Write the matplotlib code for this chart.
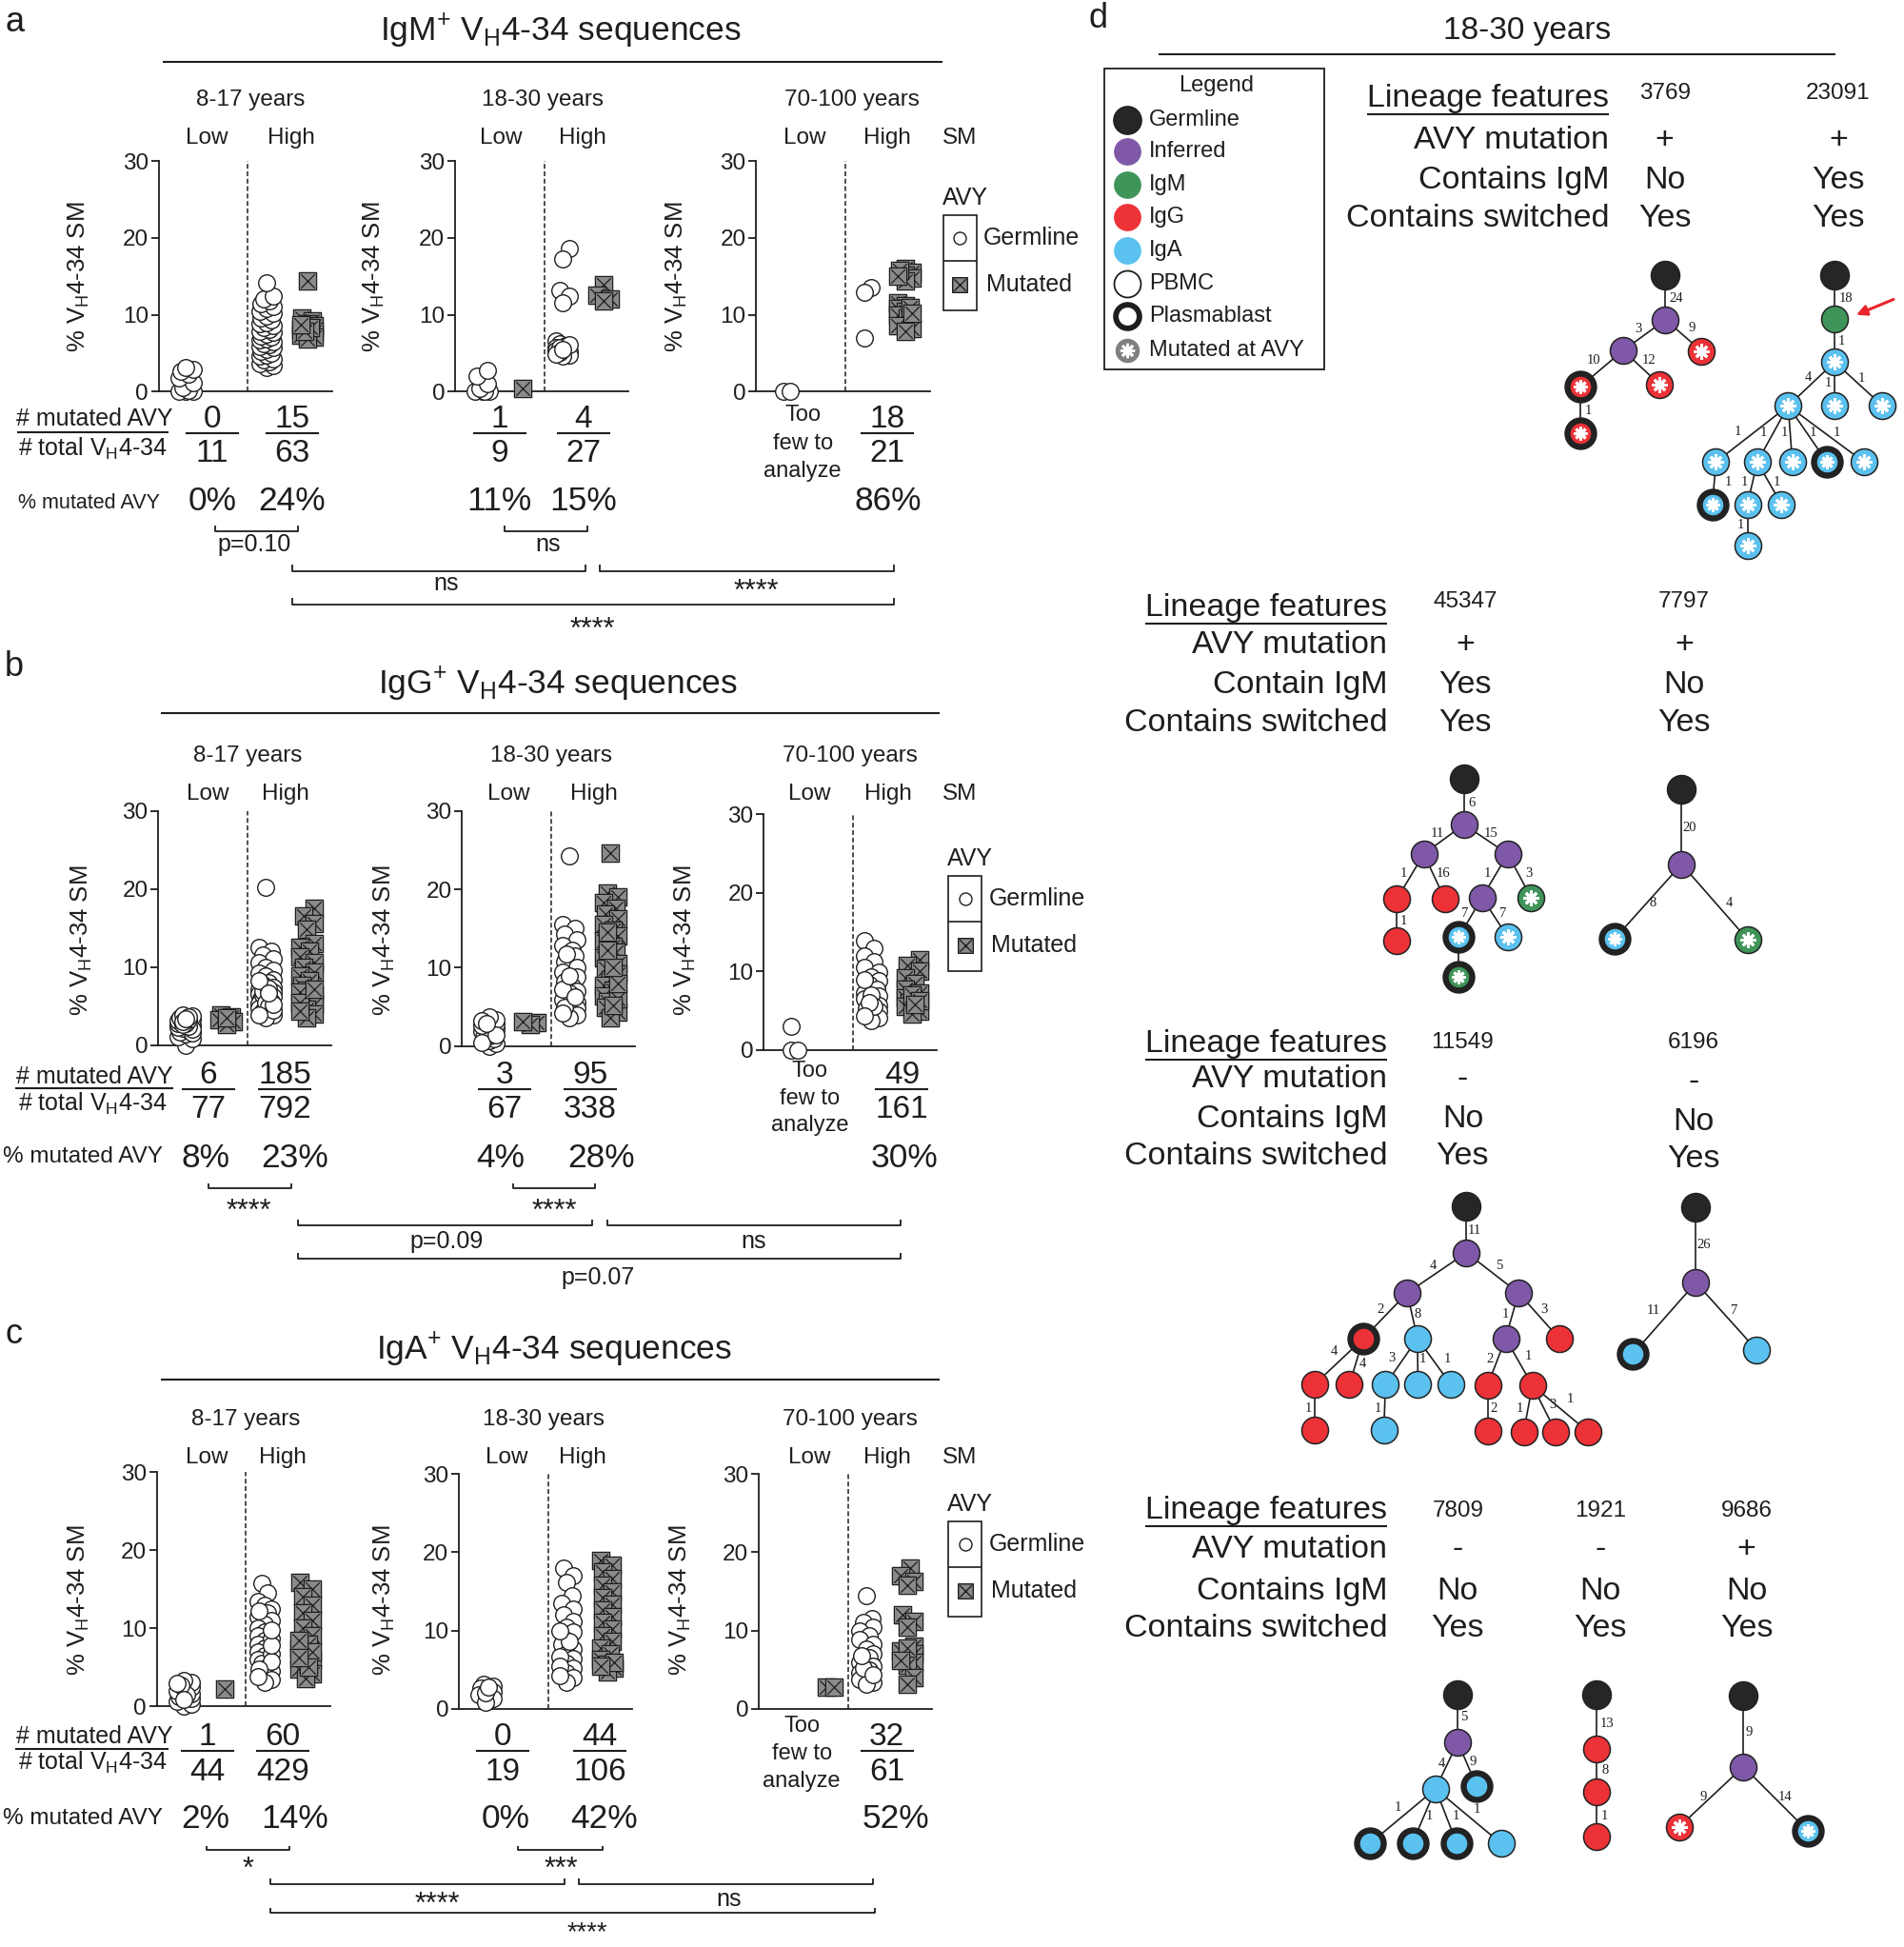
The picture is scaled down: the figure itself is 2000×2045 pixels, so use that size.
import numpy as np
import matplotlib
matplotlib.use("Agg")
import matplotlib.pyplot as plt
from matplotlib.path import Path
from matplotlib.patches import Rectangle

plt.rcParams['font.family'] = ['Liberation Sans', 'DejaVu Sans']
plt.rcParams['mathtext.default'] = 'regular'

# ======================= DATA =======================
ages = ["8-17 years", "18-30 years", "70-100 years"]
titles = [r"IgM$^{+}$ V$_{H}$4-34 sequences",
          r"IgG$^{+}$ V$_{H}$4-34 sequences",
          r"IgA$^{+}$ V$_{H}$4-34 sequences"]

# ---- IgM (panel a) : % VH4-34 SM per sequence
igm_817_low_germ = [0, 0, 0, 0.2, 0.5, 1.2, 1.8, 2.3, 2.6, 2.9, 3.1]
igm_817_low_mut = []
igm_817_high_germ = [3.2, 3.4, 3.6, 3.9, 4.1, 4.3, 4.6, 4.8, 5.0, 5.2, 5.5, 5.7, 5.9, 6.1,
                     6.3, 6.5, 6.7, 6.9, 7.1, 7.3, 7.5, 7.7, 7.9, 8.1, 8.3, 8.6, 8.8, 9.0,
                     9.3, 9.6, 9.9, 10.2, 10.5, 10.8, 11.1, 11.4, 11.8, 12.1, 12.4, 14.2]
igm_817_high_mut = [14.4, 9.6, 9.2, 8.9, 8.6, 8.4, 8.1, 7.9, 7.6, 7.4, 7.1, 6.9, 8.3, 7.8, 8.7]
igm_1830_low_germ = [0, 0, 0, 0, 0.4, 1.0, 2.0, 2.8]
igm_1830_low_mut = [0.4]
igm_1830_high_germ = [18.6, 17.3, 13.2, 12.4, 11.6, 6.6, 6.3, 6.0, 5.8, 5.6, 5.4, 5.2, 5.0,
                      4.8, 4.6, 5.7, 5.1, 6.1, 4.9, 5.5]
igm_1830_high_mut = [13.9, 12.6, 12.1, 11.8]
igm_70_low_germ = [0.1, 0.1]
igm_70_low_mut = []
igm_70_high_germ = [13.6, 13.0, 7.0]
igm_70_high_mut = [16.0, 15.6, 15.2, 14.8, 14.4, 15.8, 11.6, 11.2, 10.8, 10.4, 10.0, 9.6,
                   8.6, 8.2, 7.9, 11.0, 10.2, 15.0]
igm_low_mut_n = [0, 1, None]
igm_low_tot_n = [11, 9, None]
igm_high_mut_n = [15, 4, 18]
igm_high_tot_n = [63, 27, 21]
igm_sig = ["p=0.10", "ns", "ns", "****", "****"]

# ---- IgG (panel b)
igg_817_low_germ = [0.0, 0.8, 1.1, 1.4, 1.7, 1.9, 2.1, 2.3, 2.5, 2.7, 2.9, 3.1, 3.3, 3.5,
                    3.7, 3.9, 1.5, 2.0, 2.4, 2.8, 3.2, 3.6, 2.6, 3.0, 3.4]
igg_817_low_mut = [3.9, 3.6, 3.3, 3.0, 2.6, 3.5]
igg_817_high_germ = [20.2, 12.5, 12.0, 11.5, 11.0, 10.5, 10.0, 9.6, 9.2, 8.8, 8.4, 8.0, 7.7,
                     7.4, 7.1, 6.8, 6.5, 6.2, 5.9, 5.6, 5.3, 5.0, 4.7, 4.4, 4.1, 3.8, 3.5,
                     6.0, 6.4, 6.9, 5.5, 4.9, 7.3, 8.2, 4.5, 5.2, 3.9, 6.6]
igg_817_high_mut = [17.5, 16.5, 15.5, 14.8, 13.0, 12.5, 12.0, 11.3, 10.6, 10.0, 9.4, 8.8,
                    8.2, 7.6, 7.0, 6.4, 5.8, 5.2, 4.6, 4.0, 3.5, 6.8, 5.5, 4.3, 7.2]
igg_1830_low_germ = [0, 0.3, 0.7, 1.0, 1.3, 1.6, 1.9, 2.2, 2.5, 2.8, 3.1, 3.4, 3.7, 1.2,
                     2.0, 2.6, 3.3, 0.5, 1.5, 2.9]
igg_1830_low_mut = [3.0, 2.8, 3.2]
igg_1830_high_germ = [24.2, 15.5, 15.0, 14.3, 13.6, 12.9, 12.2, 11.5, 10.8, 10.1, 9.4, 8.8,
                      8.2, 7.6, 7.0, 6.5, 6.0, 5.6, 5.2, 4.8, 4.4, 4.0, 3.6, 6.8, 5.9, 5.0,
                      4.2, 7.3, 9.0, 11.8, 6.3]
igg_1830_high_mut = [24.6, 19.5, 19.0, 18.3, 17.6, 16.9, 16.2, 15.5, 14.8, 14.1, 13.4, 12.7,
                     12.0, 11.3, 10.6, 9.9, 9.2, 8.5, 7.8, 7.1, 6.4, 5.7, 5.0, 4.3, 3.6,
                     6.0, 8.0, 10.0, 12.3, 14.5, 5.2]
igg_70_low_germ = [3.0, 0, 0]
igg_70_low_mut = []
igg_70_high_germ = [13.9, 12.9, 12.0, 11.2, 10.5, 9.9, 9.3, 8.8, 8.3, 7.8, 7.3, 6.9, 6.5,
                    6.1, 5.7, 5.3, 4.9, 4.5, 4.1, 3.7, 8.9, 7.0, 5.5, 6.0, 4.3]
igg_70_high_mut = [11.5, 10.8, 10.0, 9.2, 8.5, 7.8, 7.2, 6.6, 6.0, 5.5, 5.0, 4.6, 7.0, 6.3, 5.8]
igg_low_mut_n = [6, 3, None]
igg_low_tot_n = [77, 67, None]
igg_high_mut_n = [185, 95, 49]
igg_high_tot_n = [792, 338, 161]
igg_sig = ["****", "****", "p=0.09", "ns", "p=0.07"]

# ---- IgA (panel c)
iga_817_low_germ = [0, 0.3, 0.7, 1.0, 1.3, 1.6, 1.9, 2.2, 2.5, 2.8, 3.1, 3.3, 1.5, 2.0,
                    2.7, 3.0, 0.9]
iga_817_low_mut = [2.2]
iga_817_high_germ = [15.8, 14.5, 13.5, 13.0, 12.5, 12.0, 11.5, 11.0, 10.5, 10.0, 9.5, 9.0,
                     8.5, 8.0, 7.5, 7.0, 6.5, 6.0, 5.5, 5.0, 4.5, 4.0, 3.5, 3.1, 12.2, 8.7,
                     6.8, 5.8, 4.8, 3.8, 7.8, 9.8]
iga_817_high_mut = [15.9, 15.0, 14.0, 13.0, 12.0, 11.0, 10.0, 9.0, 8.0, 7.3, 6.6, 6.0, 5.4,
                    4.8, 4.2, 3.6, 7.0, 5.0, 8.5, 6.3]
iga_1830_low_germ = [3.2, 2.9, 2.6, 2.2, 1.8, 1.3, 0.8, 2.0, 2.8]
iga_1830_low_mut = []
iga_1830_high_germ = [18.0, 17.0, 16.2, 14.5, 13.5, 12.8, 12.0, 11.2, 10.5, 9.8, 9.0, 8.3,
                      7.6, 7.0, 6.4, 5.8, 5.2, 4.6, 4.0, 3.4, 6.7, 8.6, 5.5, 4.3, 10.0]
iga_1830_high_mut = [19.0, 18.3, 17.5, 16.7, 15.8, 15.0, 14.2, 13.4, 12.6, 11.8, 11.0, 10.2,
                     9.4, 8.6, 7.8, 7.0, 6.3, 5.7, 5.2, 4.7, 6.0, 5.4]
iga_70_low_germ = []
iga_70_low_mut = [2.8, 2.8]
iga_70_high_germ = [14.4, 11.5, 11.0, 10.5, 10.0, 9.4, 8.8, 8.2, 7.6, 7.0, 6.5, 6.0, 5.5,
                    5.0, 4.6, 4.2, 3.8, 3.4, 3.1, 5.2, 4.4, 6.8]
iga_70_high_mut = [18.0, 17.0, 16.3, 15.8, 12.0, 11.2, 10.5, 8.0, 7.4, 7.0, 6.5, 6.0, 5.6,
                   4.0, 3.2, 7.8, 6.2]
iga_low_mut_n = [1, 0, None]
iga_low_tot_n = [44, 19, None]
iga_high_mut_n = [60, 44, 32]
iga_high_tot_n = [429, 106, 61]
iga_sig = ["*", "***", "****", "ns", "****"]

# ---- Panel d: lineage feature tables
block1_ids = ["3769", "23091"]; block1_avy = ["+", "+"]; block1_igm = ["No", "Yes"]; block1_sw = ["Yes", "Yes"]
block2_ids = ["45347", "7797"]; block2_avy = ["+", "+"]; block2_igm = ["Yes", "No"]; block2_sw = ["Yes", "Yes"]
block3_ids = ["11549", "6196"]; block3_avy = ["-", "-"]; block3_igm = ["No", "No"]; block3_sw = ["Yes", "Yes"]
block4_ids = ["7809", "1921", "9686"]; block4_avy = ["-", "-", "+"]; block4_igm = ["No", "No", "No"]; block4_sw = ["Yes", "Yes", "Yes"]

# ---- lineage trees: (x, y, isotype, plasmablast, mutated_AVY, parent, edge_label, label_x, label_y)
tree_3769 = [
    (1343.6, 222.0, 'germ', 0, 0, None, '', 0, 0),
    (1343.6, 257.9, 'inf', 0, 0, 0, '24', 1352.3, 241.0),
    (1309.4, 282.7, 'inf', 0, 0, 1, '3', 1322.0, 265.0),
    (1372.7, 283.3, 'igg', 0, 1, 1, '9', 1364.8, 264.6),
    (1274.9, 311.9, 'igg', 1, 1, 2, '10', 1285.3, 291.0),
    (1338.6, 309.9, 'igg', 0, 1, 2, '12', 1330.0, 291.0),
    (1274.9, 349.3, 'igg', 1, 1, 4, '1', 1281.5, 331.5),
]
tree_23091 = [
    (1480.0, 222.0, 'germ', 0, 0, None, '', 0, 0),
    (1480.0, 257.0, 'igm', 0, 0, 0, '18', 1489.0, 241.0),
    (1480.0, 292.0, 'iga', 0, 1, 1, '1', 1486.0, 275.4),
    (1442.6, 327.4, 'iga', 0, 1, 2, '4', 1458.4, 304.6),
    (1480.0, 327.4, 'iga', 0, 1, 2, '1', 1474.5, 309.0),
    (1518.7, 327.4, 'iga', 0, 1, 2, '1', 1501.6, 305.2),
    (1384.3, 372.7, 'iga', 0, 1, 3, '1', 1401.8, 348.4),
    (1417.6, 372.7, 'iga', 0, 1, 3, '1', 1423.0, 349.0),
    (1445.9, 372.7, 'iga', 0, 1, 3, '1', 1439.2, 349.0),
    (1473.8, 372.7, 'iga', 1, 1, 3, '1', 1462.5, 349.0),
    (1503.7, 372.7, 'iga', 0, 1, 3, '1', 1482.0, 349.0),
    (1381.4, 406.8, 'iga', 1, 1, 6, '1', 1393.9, 389.3),
    (1409.7, 406.8, 'iga', 0, 1, 7, '1', 1407.2, 389.3),
    (1437.2, 406.8, 'iga', 0, 1, 7, '1', 1433.4, 389.3),
    (1409.7, 440.4, 'iga', 0, 1, 12, '1', 1404.3, 423.8),
]
tree_45347 = [
    (1181.0, 628.0, 'germ', 0, 0, None, '', 0, 0),
    (1181.0, 665.1, 'inf', 0, 0, 0, '6', 1187.2, 648.0),
    (1148.6, 688.9, 'inf', 0, 0, 1, '11', 1159.4, 672.3),
    (1216.4, 688.9, 'inf', 0, 0, 1, '15', 1203.0, 672.3),
    (1126.9, 725.3, 'igg', 0, 0, 2, '1', 1132.3, 704.8),
    (1165.6, 725.3, 'igg', 0, 0, 2, '16', 1164.4, 704.8),
    (1195.6, 724.0, 'inf', 0, 0, 3, '1', 1200.1, 704.8),
    (1235.1, 724.0, 'igm', 0, 1, 3, '3', 1233.0, 704.8),
    (1126.9, 758.6, 'igg', 0, 0, 4, '1', 1132.3, 742.7),
    (1176.8, 756.0, 'iga', 1, 1, 6, '7', 1181.8, 736.8),
    (1216.4, 756.0, 'iga', 0, 1, 6, '7', 1212.2, 736.8),
    (1176.8, 788.0, 'igm', 1, 1, 9, '', 0, 0),
]
tree_7797 = [
    (1356.6, 636.4, 'germ', 0, 0, None, '', 0, 0),
    (1356.6, 697.1, 'inf', 0, 0, 0, '20', 1363.2, 667.7),
    (1302.5, 757.3, 'iga', 1, 1, 1, '8', 1333.7, 728.6),
    (1409.8, 757.8, 'igm', 0, 1, 1, '4', 1395.3, 728.6),
]
tree_11549 = [
    (1183.0, 973.0, 'germ', 0, 0, None, '', 0, 0),
    (1183.0, 1010.5, 'inf', 0, 0, 0, '11', 1189.2, 992.8),
    (1135.2, 1043.0, 'inf', 0, 0, 1, '4', 1156.0, 1020.7),
    (1225.0, 1043.0, 'inf', 0, 0, 1, '5', 1209.2, 1020.7),
    (1099.8, 1079.7, 'igg', 1, 0, 2, '2', 1113.5, 1056.7),
    (1143.5, 1079.7, 'iga', 0, 0, 2, '8', 1143.9, 1060.0),
    (1214.6, 1079.7, 'inf', 0, 0, 3, '1', 1214.6, 1060.5),
    (1258.3, 1080.2, 'igg', 0, 0, 3, '3', 1245.8, 1056.7),
    (1060.3, 1117.0, 'igg', 0, 0, 4, '4', 1076.1, 1090.4),
    (1088.6, 1117.0, 'igg', 0, 0, 4, '4', 1099.0, 1100.5),
    (1117.7, 1117.0, 'iga', 0, 0, 5, '3', 1122.7, 1095.4),
    (1143.9, 1117.0, 'iga', 0, 0, 5, '1', 1148.0, 1096.7),
    (1170.5, 1117.0, 'iga', 0, 0, 5, '1', 1167.6, 1096.7),
    (1200.1, 1117.5, 'igg', 0, 0, 6, '2', 1201.7, 1096.7),
    (1236.2, 1117.5, 'igg', 0, 0, 6, '1', 1233.3, 1094.2),
    (1060.3, 1153.2, 'igg', 0, 0, 8, '1', 1055.3, 1136.0),
    (1116.4, 1153.2, 'iga', 0, 0, 10, '1', 1111.4, 1136.0),
    (1200.1, 1154.3, 'igg', 0, 0, 13, '2', 1205.0, 1136.5),
    (1229.2, 1155.0, 'igg', 0, 0, 14, '1', 1225.8, 1136.5),
    (1255.0, 1155.0, 'igg', 0, 0, 14, '3', 1252.9, 1133.0),
    (1281.2, 1155.0, 'igg', 0, 0, 14, '1', 1266.6, 1128.4),
]
tree_6196 = [
    (1368.1, 973.8, 'germ', 0, 0, None, '', 0, 0),
    (1368.1, 1034.6, 'inf', 0, 0, 0, '26', 1374.8, 1004.2),
    (1317.4, 1092.1, 'iga', 1, 0, 1, '11', 1334.0, 1057.4),
    (1417.2, 1089.1, 'iga', 0, 0, 1, '7', 1399.3, 1057.4),
]
tree_7809 = [
    (1176.0, 1367.0, 'germ', 0, 0, None, '', 0, 0),
    (1176.0, 1405.4, 'inf', 0, 0, 0, '5', 1181.0, 1385.4),
    (1158.1, 1443.0, 'iga', 0, 0, 1, '4', 1162.7, 1422.6),
    (1191.4, 1441.0, 'iga', 1, 0, 1, '9', 1188.5, 1421.3),
    (1105.3, 1487.0, 'iga', 1, 0, 2, '1', 1127.7, 1458.4),
    (1139.4, 1487.0, 'iga', 1, 0, 2, '1', 1153.1, 1465.3),
    (1175.2, 1487.0, 'iga', 1, 0, 2, '1', 1174.8, 1465.3),
    (1210.9, 1487.0, 'iga', 0, 0, 2, '1', 1191.4, 1459.7),
]
tree_1921 = [
    (1288.3, 1367.0, 'germ', 0, 0, None, '', 0, 0),
    (1288.3, 1410.5, 'igg', 0, 0, 0, '13', 1296.6, 1390.6),
    (1288.3, 1445.6, 'igg', 0, 0, 1, '8', 1294.6, 1428.4),
    (1288.3, 1481.4, 'igg', 0, 0, 2, '1', 1294.6, 1464.8),
]
tree_9686 = [
    (1406.5, 1368.0, 'germ', 0, 0, None, '', 0, 0),
    (1406.5, 1425.1, 'inf', 0, 0, 0, '9', 1410.6, 1397.7),
    (1354.5, 1473.8, 'igg', 0, 1, 1, '9', 1374.4, 1449.9),
    (1458.5, 1477.1, 'iga', 1, 1, 1, '14', 1440.2, 1449.9),
]

legend_items = ["Germline", "Inferred", "IgM", "IgG", "IgA", "PBMC", "Plasmablast", "Mutated at AVY"]

# ======================= STYLE / LAYOUT =======================
W, H = 1536.0, 1570.6          # layout units (~ 1.302 output px each)
PT = 0.9375                    # points per layout unit
INK = '#1e1e1e'
iso_color = {'germ': '#262626', 'inf': '#7f58a7', 'igm': '#3f9459',
             'igg': '#ec3237', 'iga': '#5bc1ef'}

fig = plt.figure(figsize=(20, 20.45), dpi=100)
ov = fig.add_axes([0, 0, 1, 1])
ov.set_xlim(0, W); ov.set_ylim(H, 0); ov.axis('off')


def T(x, y, s, size, ha='center', va='center', **kw):
    kw.setdefault('color', INK)
    return ov.text(x, y, s, fontsize=size, ha=ha, va=va, **kw)


def L(xs, ys, lw=1.3, **kw):
    ov.plot(xs, ys, color=INK, lw=lw, solid_capstyle='butt', **kw)


def swarm(vals, ppu, D, steps=(0, 2.2, -2.2, 4.2, -4.2, 5.6, -5.6)):
    vals = np.asarray(vals, float)
    xs = np.zeros(len(vals))
    placed = []
    for i in np.argsort(vals, kind='stable'):
        y = vals[i] * ppu
        best, bestd = 0.0, -1.0
        for s in steps:
            d = min([np.hypot(s - px, y - py) for px, py in placed], default=1e9)
            if d >= 0.7 * D:
                best = s
                break
            if d > bestd:
                best, bestd = s, d
        xs[i] = best
        placed.append((best, y))
    return xs


sq_marker = Path([(-1, -1), (1, -1), (1, 1), (-1, 1), (-1, -1),
                  (-0.8, -0.8), (0.8, 0.8), (-0.8, 0.8), (0.8, -0.8)],
                 [Path.MOVETO, Path.LINETO, Path.LINETO, Path.LINETO, Path.CLOSEPOLY,
                  Path.MOVETO, Path.LINETO, Path.MOVETO, Path.LINETO])

GX = {'lowG': 22, 'lowM': 55, 'dash': 72, 'highG': 87, 'highM': 120}
AXW = 140

panels = [
    dict(letter='a', letter_xy=(4, 18), title_xy=(452, 25), uline=(50, 131, 760),
         age_y=81, age_x=[202.4, 437.6, 687.5], lh_y=111.7,
         low_x=[166.6, 404, 649], high_x=[235, 470, 716],
         ax_x0=[128, 367, 610], ax_top=[130, 130, 130], ax_bot=[316, 316, 316],
         ylab_x=[64, 302, 546], ylab_y=223,
         colL=[171, 403, 647.5], colH=[235.7, 470.5, 716],
         num_y=338, fl_y=349.5, den_y=366, pct_y=404, few_y=[335, 358, 380],
         pctL=[171, 403], pctH=[235.7, 470.5, 716],
         rowlab=dict(mut=(76, 338, 14, 136, 349), tot=(75, 362), pct=(71.5, 406, 15.5)),
         small=[(173.5, 240.7, 205), (407, 473.5, 442)], small_y=(424, 428.5, 439),
         long1=(235.5, 472, 359.5, 471), long2=(484, 721, 610, 471), long_y=(455.5, 460.7),
         bot=(235.5, 721, 478, 501), bot_y=(482, 488),
         leg_dx=0, leg_dy=0,
         data=[(igm_817_low_germ, igm_817_low_mut, igm_817_high_germ, igm_817_high_mut),
               (igm_1830_low_germ, igm_1830_low_mut, igm_1830_high_germ, igm_1830_high_mut),
               (igm_70_low_germ, igm_70_low_mut, igm_70_high_germ, igm_70_high_mut)],
         counts=(igm_low_mut_n, igm_low_tot_n, igm_high_mut_n, igm_high_tot_n), sig=igm_sig),
    dict(letter='b', letter_xy=(4, 538), title_xy=(449.6, 552), uline=(575.6, 130, 758),
         age_y=609.6, age_x=[200, 445, 686], lh_y=640.6,
         low_x=[168, 410.6, 653], high_x=[230, 479, 716.5],
         ax_x0=[127.5, 372.5, 616], ax_top=[654, 654, 657], ax_bot=[843, 844, 847],
         ylab_x=[66, 310, 553], ylab_y=759,
         colL=[168, 407, 653], colH=[230, 476, 727.6],
         num_y=867.3, fl_y=878.3, den_y=895, pct_y=934, few_y=[864, 886, 908],
         pctL=[165.6, 404], pctH=[237.7, 485, 730],
         rowlab=dict(mut=(76, 869, 12, 140, 878), tot=(75, 890.6), pct=(67, 933, 17.5)),
         small=[(168, 235, 201), (414, 480, 447)], small_y=(955, 958.3, 970.6),
         long1=(240, 478, 360, 1001.6), long2=(490, 726.7, 607.6, 1001.6), long_y=(984, 988.3),
         bot=(240, 726.7, 482.6, 1030.6), bot_y=(1010.6, 1015),
         leg_dx=4, leg_dy=533,
         data=[(igg_817_low_germ, igg_817_low_mut, igg_817_high_germ, igg_817_high_mut),
               (igg_1830_low_germ, igg_1830_low_mut, igg_1830_high_germ, igg_1830_high_mut),
               (igg_70_low_germ, igg_70_low_mut, igg_70_high_germ, igg_70_high_mut)],
         counts=(igg_low_mut_n, igg_low_tot_n, igg_high_mut_n, igg_high_tot_n), sig=igg_sig),
    dict(letter='c', letter_xy=(4, 1076), title_xy=(447, 1089), uline=(1113, 130, 758),
         age_y=1145, age_x=[198.5, 438.6, 686], lh_y=1175.5,
         low_x=[166.6, 409, 653], high_x=[227.9, 470, 716],
         ax_x0=[126.4, 370, 612], ax_top=[1187.6, 1189, 1189], ax_bot=[1376.5, 1378.5, 1378.5],
         ylab_x=[64, 310, 549], ylab_y=1291,
         colL=[167.6, 405.7, 646.8], colH=[228, 484, 715.4],
         num_y=1401, fl_y=1412.3, den_y=1429.6, pct_y=1467, few_y=[1392.8, 1415, 1436.7],
         pctL=[165.6, 407.7], pctH=[237.7, 487.6, 722.8],
         rowlab=dict(mut=(76, 1401, 12, 136, 1411), tot=(75, 1422), pct=(67, 1467, 17.5)),
         small=[(166.6, 233.7, 200), (418, 486, 453)], small_y=(1489, 1492.4, 1501),
         long1=(218, 455.7, 352.8, 1530), long2=(467, 704, 588, 1532), long_y=(1515.5, 1519.7),
         bot=(218, 705.6, 474, None), bot_y=(1539, 1543),
         leg_dx=4, leg_dy=1054,
         data=[(iga_817_low_germ, iga_817_low_mut, iga_817_high_germ, iga_817_high_mut),
               (iga_1830_low_germ, iga_1830_low_mut, iga_1830_high_germ, iga_1830_high_mut),
               (iga_70_low_germ, iga_70_low_mut, iga_70_high_germ, iga_70_high_mut)],
         counts=(iga_low_mut_n, iga_low_tot_n, iga_high_mut_n, iga_high_tot_n), sig=iga_sig),
]

FS_TITLE, FS_LAB, FS_TICK, FS_FRAC, FS_PCT = 25.5, 17.5, 17.5, 24, 25.5


def sig_text(x, y, s):
    if y is None:   # bottom-most label: sit on the figure's lower edge
        T(x, H - 1.0, s, 19.5, va='bottom')
        return
    dy = 7 if set(s) == {'*'} else 0
    T(x, y + dy, s, 22 if dy else 18)


for pi, p in enumerate(panels):
    T(p['letter_xy'][0], p['letter_xy'][1], p['letter'], 26, ha='left')
    T(p['title_xy'][0], p['title_xy'][1], titles[pi], FS_TITLE)
    uy, ux0, ux1 = p['uline']
    L([ux0, ux1], [uy, uy], lw=1.5)
    for k in range(3):
        T(p['age_x'][k], p['age_y'], ages[k], FS_LAB)
        T(p['low_x'][k], p['lh_y'], 'Low', FS_LAB)
        T(p['high_x'][k], p['lh_y'], 'High', FS_LAB)
    T(774, p['lh_y'], 'SM', FS_LAB)

    # ---- scatter axes
    for k in range(3):
        x0, yt, yb = p['ax_x0'][k], p['ax_top'][k], p['ax_bot'][k]
        ax = fig.add_axes([x0 / W, 1 - yb / H, AXW / W, (yb - yt) / H])
        ax.set_xlim(0, AXW); ax.set_ylim(0, 30)
        ax.patch.set_alpha(0)
        for s in ['top', 'right']:
            ax.spines[s].set_visible(False)
        for s in ['left', 'bottom']:
            ax.spines[s].set_linewidth(1.3); ax.spines[s].set_color(INK)
        ax.set_xticks([])
        ax.set_yticks([0, 10, 20, 30])
        ax.tick_params(axis='y', length=6 * PT, width=1.3, labelsize=FS_TICK, pad=2,
                       colors=INK)
        ax.plot([GX['dash'], GX['dash']], [0, 30], ls=(0, (3.3, 1.8)), lw=1.1, color=INK)
        ppu = (yb - yt) / 30.0
        lowG, lowM, highG, highM = p['data'][k]
        for vals, key in [(lowG, 'lowG'), (highG, 'highG')]:
            if len(vals):
                xs = GX[key] + swarm(vals, ppu, 13)
                ax.plot(xs, vals, ls='none', marker='o', ms=13.5 * PT, mfc='white',
                        mec=INK, mew=1.0, clip_on=False, zorder=3)
        for vals, key in [(lowM, 'lowM'), (highM, 'highM')]:
            if len(vals):
                xs = GX[key] + swarm(vals, ppu, 14)
                ax.plot(xs, vals, ls='none', marker=sq_marker, ms=14 * PT, mfc='#8a8a8a',
                        mec=INK, mew=0.9, clip_on=False, zorder=3)
        T(p['ylab_x'][k], p['ylab_y'], r"% V$_{H}$4-34 SM", 18.5, rotation=90)

    # ---- counts rows
    lm, lt, hm, ht = p['counts']
    for k in range(3):
        cols = []
        if lm[k] is not None:
            cols.append((p['colL'][k], lm[k], lt[k], p['pctL'][k]))
        else:
            for yy, s in zip(p['few_y'], ['Too', 'few to', 'analyze']):
                T(p['colL'][k], yy, s, 17)
        cols.append((p['colH'][k], hm[k], ht[k], p['pctH'][k]))
        for cx, m, t, px in cols:
            T(cx, p['num_y'], str(m), FS_FRAC)
            L([cx - 21.5, cx + 21.5], [p['fl_y'], p['fl_y']], lw=1.5)
            T(cx, p['den_y'], str(t), FS_FRAC)
            T(px, p['pct_y'], f"{round(100 * m / t)}%", FS_PCT)
    rl = p['rowlab']
    mx, my, u0, u1, uy2 = rl['mut']
    T(mx, my, '# mutated AVY', 18)
    L([u0, u1], [uy2, uy2], lw=1.5)
    T(rl['tot'][0], rl['tot'][1], r"# total V$_{H}$4-34", 18)
    T(rl['pct'][0], rl['pct'][1], '% mutated AVY', rl['pct'][2])

    # ---- significance brackets
    sig = p['sig']
    yt_, yl_, ytx = p['small_y']
    for (a0, a1, tx), s in zip(p['small'], sig[:2]):
        L([a0, a0, a1, a1], [yt_, yl_, yl_, yt_])
        sig_text(tx, ytx, s)
    for br, s in [(p['long1'], sig[2]), (p['long2'], sig[3])]:
        L([br[0], br[0], br[1], br[1]], [p['long_y'][0], p['long_y'][1], p['long_y'][1], p['long_y'][0]])
        sig_text(br[2], br[3], s)
    b = p['bot']
    L([b[0], b[0], b[1], b[1]], [p['bot_y'][0], p['bot_y'][1], p['bot_y'][1], p['bot_y'][0]])
    sig_text(b[2], b[3], sig[4])

    # ---- AVY legend
    dx, dy = p['leg_dx'], p['leg_dy']
    T(760 + dx, 159.8 + dy, 'AVY', 18, ha='left')
    ov.add_patch(Rectangle((761 + dx, 173.6 + dy), 27, 76.8, fill=False, lw=1.2, ec=INK))
    L([761 + dx, 788 + dx], [210.4 + dy, 210.4 + dy], lw=1.2)
    ov.plot([774.5 + dx], [192 + dy], ls='none', marker='o', ms=10 * PT, mfc='white', mec=INK, mew=1.0)
    ov.plot([774.5 + dx], [229.5 + dy], ls='none', marker=sq_marker, ms=12 * PT, mfc='#8a8a8a', mec=INK, mew=1.0)
    T(793.4 + dx, 192 + dy, 'Germline', 18, ha='left')
    T(795.7 + dx, 229.5 + dy, 'Mutated', 18, ha='left')

# ======================= PANEL d =======================
T(878, 15, 'd', 26, ha='left')
T(1232, 25, '18-30 years', 24)
L([935, 1481], [44, 44], lw=1.5)

# legend box
ov.add_patch(Rectangle((891, 55), 177, 243, fill=False, lw=1.3, ec=INK))
T(981.4, 69, 'Legend', 17)
leg_y = [97, 122.4, 149.2, 175.4, 202, 228.8, 254.8, 282.3]
leg_style = [('#262626', INK, 1.0, 22.5), (iso_color['inf'], iso_color['inf'], 1.0, 21),
             (iso_color['igm'], iso_color['igm'], 1.0, 21), (iso_color['igg'], iso_color['igg'], 1.0, 21),
             (iso_color['iga'], iso_color['iga'], 1.0, 21), ('white', INK, 1.3, 21.5),
             ('white', INK, 4.2, 19), ('#808080', '#808080', 1.0, 18.5)]
for lab, yy, (fc, ec, mw, ms) in zip(legend_items, leg_y, leg_style):
    ov.plot([909.3], [yy], ls='none', marker='o', ms=ms * PT, mfc=fc, mec=ec, mew=mw)
    T(926.7, yy, lab, 17, ha='left')
ov.plot([909.3], [282.3], ls='none', marker=(8, 2, 0), ms=11, mew=2.0, color='white')

# feature blocks
blocks = [
    dict(rx=1298, ys=[79.8, 113.4, 145.5, 176], id_y=75.4, cx=[1343, 1483], cdy=[0, 0],
         ids=block1_ids, avy=block1_avy, igm=block1_igm, sw=block1_sw, igm_label='Contains IgM'),
    dict(rx=1119, ys=[490.5, 520.5, 552.5, 583.2], id_y=485.4, cx=[1181.8, 1358.6], cdy=[0, 0],
         ids=block2_ids, avy=block2_avy, igm=block2_igm, sw=block2_sw, igm_label='Contain IgM'),
    dict(rx=1119, ys=[842.4, 870.3, 902.8, 932.7], id_y=841, cx=[1180, 1366], cdy=[0, 2.5],
         ids=block3_ids, avy=block3_avy, igm=block3_igm, sw=block3_sw, igm_label='Contains IgM'),
    dict(rx=1119, ys=[1218.5, 1250.3, 1283.5, 1313.8], id_y=1219, cx=[1176, 1291, 1409], cdy=[0, 0, 0],
         ids=block4_ids, avy=block4_avy, igm=block4_igm, sw=block4_sw, igm_label='Contains IgM'),
]
FS_D = 24.5
fig.canvas.draw()
renderer = fig.canvas.get_renderer()
inv = ov.transData.inverted()
for bl in blocks:
    t = T(bl['rx'], bl['ys'][0], 'Lineage features', FS_D, ha='right')
    bb = t.get_window_extent(renderer)
    (xa, _), (xb, _) = inv.transform([(bb.x0, bb.y0), (bb.x1, bb.y0)])
    L([xa, xb], [bl['ys'][0] + 12.5, bl['ys'][0] + 12.5], lw=1.5)
    T(bl['rx'], bl['ys'][1], 'AVY mutation', FS_D, ha='right')
    T(bl['rx'], bl['ys'][2], bl['igm_label'], FS_D, ha='right')
    T(bl['rx'], bl['ys'][3], 'Contains switched', FS_D, ha='right')
    for j, cx in enumerate(bl['cx']):
        T(cx, bl['id_y'], bl['ids'][j], 17.5)
        T(cx, bl['ys'][1] + bl['cdy'][j], bl['avy'][j], FS_D)
        T(cx, bl['ys'][2] + bl['cdy'][j], bl['igm'][j], FS_D)
        T(cx, bl['ys'][3] + bl['cdy'][j], bl['sw'][j], FS_D)


def draw_tree(nodes):
    for n in nodes:
        x, y, kind, pb, star, par, lab, lx, ly = n
        if par is not None:
            px, py = nodes[par][0], nodes[par][1]
            ov.plot([px, x], [py, y], color=INK, lw=1.2, zorder=2)
            if lab:
                ov.text(lx, ly, lab, fontsize=10.5, ha='center', va='center', color=INK,
                        family=['Liberation Serif', 'DejaVu Serif'], zorder=3)
    for n in nodes:
        x, y, kind, pb, star, par, lab, lx, ly = n
        ms = 23 if kind == 'germ' else 21.5
        if pb:
            ov.plot([x], [y], ls='none', marker='o', ms=21.5 * PT, mfc=iso_color[kind],
                    mec='#222222', mew=4.6, zorder=4)
        else:
            ov.plot([x], [y], ls='none', marker='o', ms=ms * PT, mfc=iso_color[kind],
                    mec='#222222', mew=1.1, zorder=4)
        if star:
            ov.plot([x], [y], ls='none', marker=(8, 2, 0), ms=(10 if pb else 11.5), mew=2.2,
                    color='white', zorder=5)


for tr in [tree_3769, tree_23091, tree_45347, tree_7797, tree_11549, tree_6196,
           tree_7809, tree_1921, tree_9686]:
    draw_tree(tr)

ov.annotate('', xy=(1497.5, 254.0), xytext=(1527.5, 241.5),
            arrowprops=dict(arrowstyle='-|>', color='#e8262c', lw=2.2, mutation_scale=16,
                            shrinkA=0, shrinkB=0))

fig.savefig('out.png', dpi=100)
